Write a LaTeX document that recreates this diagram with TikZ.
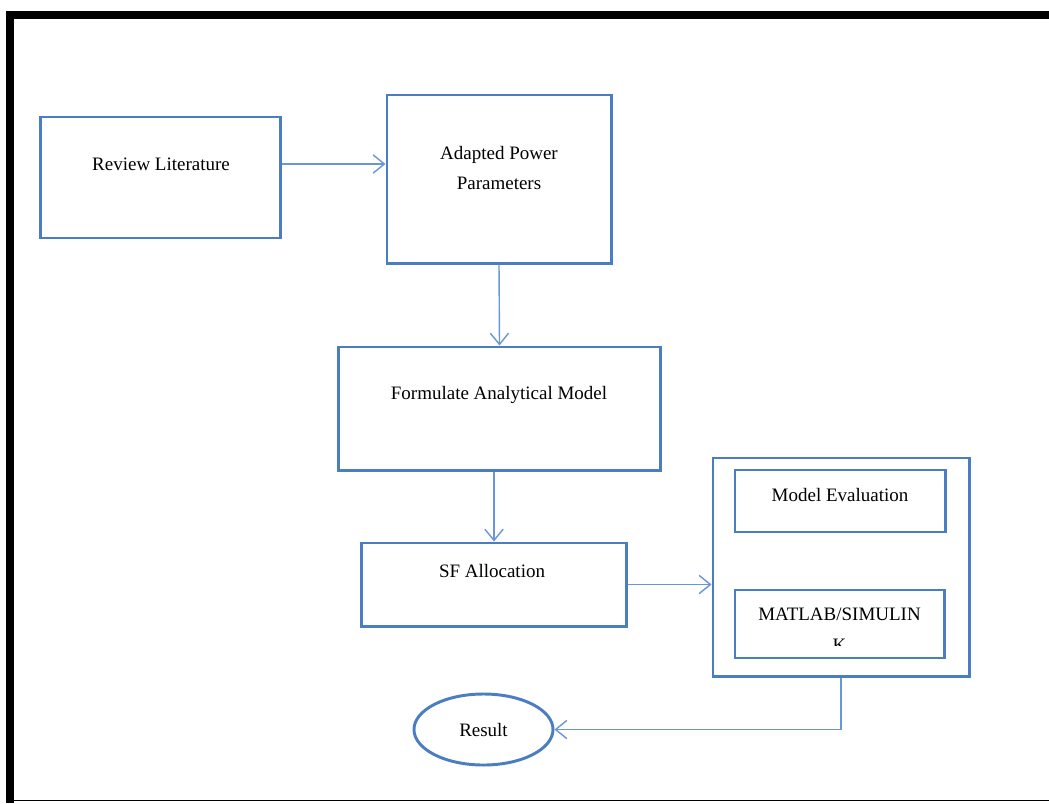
\documentclass[tikz,border=0pt]{standalone}
\usepackage{fontspec}
\setmainfont{Liberation Serif}
\usetikzlibrary{arrows.meta,shapes.geometric}
\definecolor{boxblue}{RGB}{74,126,193}
\definecolor{linkblue}{RGB}{104,150,214}
\tikzset{
  box/.style={draw=boxblue,line width=2.1pt,rectangle,inner sep=0pt},
  txt/.style={font=\fontsize{13.5}{22}\selectfont,align=center,inner sep=0pt},
  link/.style={draw=linkblue,line width=1pt,-{Straight Barb[length=8pt,width=13pt]}}
}
\begin{document}
\begin{tikzpicture}[x=0.025cm,y=-0.025cm]
\useasboundingbox (0,0) rectangle (1049,803);
% outer frame
\draw[line width=5.7pt,line join=miter] (1049,15) -- (10,15) -- (10,803);
\draw[line width=0.8pt] (10,800.5) -- (1049,800.5);
% boxes
\node[box,minimum width=5.975cm,minimum height=3.025cm] (rev) at (160.5,177.5) {};
\node[box,minimum width=5.6cm,minimum height=4.2cm] (apt) at (499,179) {};
\node[box,minimum width=8.025cm,minimum height=3.075cm] (fam) at (499.5,408.5) {};
\node[box,minimum width=6.6cm,minimum height=2.075cm] (sf) at (494,584.5) {};
\node[box,minimum width=6.4cm,minimum height=5.45cm] (ctr) at (841,567) {};
\node[box,minimum width=5.25cm,minimum height=1.55cm] (mev) at (840,501) {};
\node[box,minimum width=5.225cm,minimum height=1.7cm] (mat) at (839.5,624) {};
\node[box,ellipse,txt,minimum width=3.475cm,minimum height=1.775cm] (res) at (483.5,729.5) {Result};
% texts
\node[txt] (revt) at (161,164) {Review Literature};
\node[txt] (aptt) at (499,168) {Adapted Power\\Parameters};
\node[txt] (famt) at (499,395) {Formulate Analytical Model};
\node[txt] (sft) at (492,571) {SF Allocation};
\node[txt] (mevt) at (840,495) {Model Evaluation};
\begin{scope}
\clip (735,590) rectangle (944,645);
\node[txt,anchor=north] (matt) at (839.5,608) {MATLAB/SIMULIN\\K};
\end{scope}
% connectors
\draw[link] (rev.east |- revt) -- (apt.west |- revt);
\draw[link] (apt.south) -- (fam.north);
\draw[link] (fam.south -| sf.north) -- (sf.north);
\draw[link] (sf.east) -- (sf.east -| ctr.west);
\draw[link] (ctr.south) |- (res.east);
\end{tikzpicture}
\end{document}
